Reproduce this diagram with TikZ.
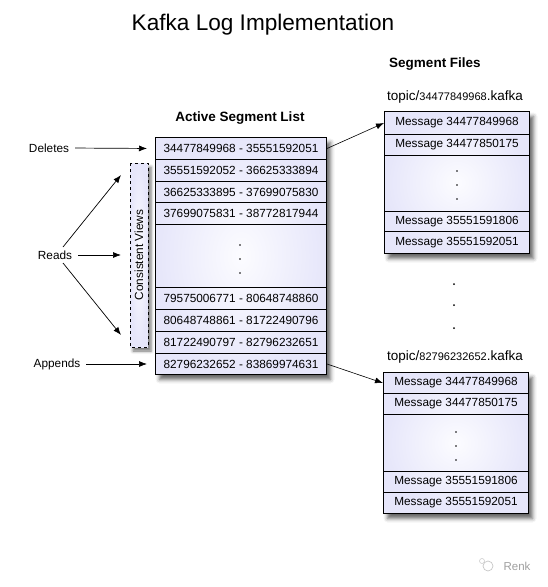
\documentclass[tikz,border=0pt]{standalone}
\usepackage{fontspec}
\setmainfont{Liberation Sans}
\usetikzlibrary{arrows.meta,shadows.blur}
\definecolor{lavout}{RGB}{230,230,250}
\definecolor{lavin}{RGB}{252,252,255}
\begin{document}
\begin{tikzpicture}[x=1pt,y=-1pt,
  every node/.style={font=\fontsize{11.8}{14}\selectfont, inner sep=0pt},
  framebox/.style={draw, line width=1pt, inner color=lavin, outer color=lavout, anchor=north west,
    blur shadow={shadow xshift=4pt, shadow yshift=-5pt, shadow blur radius=4pt, shadow opacity=60}},
  cell/.style={draw, line width=1pt, anchor=north west},
  arr/.style={-{Latex[length=8pt,width=6pt]}, line width=0.7pt},
  dotmark/.style={circle, fill, minimum size=1.6pt, inner sep=0pt},
  hdr/.style={font=\fontsize{13.5}{16}\selectfont\bfseries},
  topiclbl/.style={font=\fontsize{13.5}{16}\selectfont}]
\useasboundingbox (0,0) rectangle (548,587);

% title and headers
\node[font=\fontsize{22.6}{26}\selectfont, anchor=base] (title) at (263,30) {Kafka Log Implementation};
\node[hdr] (hsf) at (435,64) {Segment Files};
\node[hdr] (hasl) at (240,118) {Active Segment List};

% active segment list
\node[framebox, minimum width=171pt, minimum height=237pt] (list) at (155,137) {};
\node[cell, minimum width=171pt, minimum height=22pt] (a1) at (155,137) {34477849968 - 35551592051};
\node[cell, minimum width=171pt, minimum height=22pt] (a2) at (155,159) {35551592052 - 36625333894};
\node[cell, minimum width=171pt, minimum height=21pt] (a3) at (155,181) {36625333895 - 37699075830};
\node[cell, minimum width=171pt, minimum height=22pt] (a4) at (155,202) {37699075831 - 38772817944};
\node[cell, minimum width=171pt, minimum height=63pt] (ad) at (155,224) {};
\node[cell, minimum width=171pt, minimum height=22pt] (a5) at (155,287) {79575006771 - 80648748860};
\node[cell, minimum width=171pt, minimum height=22pt] (a6) at (155,309) {80648748861 - 81722490796};
\node[cell, minimum width=171pt, minimum height=22pt] (a7) at (155,331) {81722490797 - 82796232651};
\node[cell, minimum width=171pt, minimum height=21pt] (a8) at (155,353) {82796232652 - 83869974631};
\node[dotmark] (ad1) at (240,245) {};
\node[dotmark] (ad2) at (240,259) {};
\node[dotmark] (ad3) at (240,273) {};

% segment file 1
\node[topiclbl] (t1) at (455,97) {topic/{\fontsize{11}{13}\selectfont 34477849968}.kafka};
\node[framebox, minimum width=145pt, minimum height=142pt] (f1) at (384,111) {};
\node[cell, minimum width=145pt, minimum height=23pt] (m1) at (384,111) {Message 34477849968};
\node[cell, minimum width=145pt, minimum height=21pt] (m2) at (384,134) {Message 34477850175};
\node[cell, minimum width=145pt, minimum height=56pt] (md) at (384,155) {};
\node[cell, minimum width=145pt, minimum height=20pt] (m3) at (384,211) {Message 35551591806};
\node[cell, minimum width=145pt, minimum height=22pt] (m4) at (384,231) {Message 35551592051};
\node[dotmark] (md1) at (457,171) {};
\node[dotmark] (md2) at (457,185) {};
\node[dotmark] (md3) at (457,199) {};

% dots between files
\node[dotmark, minimum size=2pt] (g1) at (454,284) {};
\node[dotmark, minimum size=2pt] (g2) at (454,305) {};
\node[dotmark, minimum size=2pt] (g3) at (454,328) {};

% segment file 2
\node[topiclbl] (t2) at (455,357) {topic/{\fontsize{11}{13}\selectfont 82796232652}.kafka};
\node[framebox, minimum width=145pt, minimum height=141pt] (f2) at (383,372) {};
\node[cell, minimum width=145pt, minimum height=21pt] (n1) at (383,372) {Message 34477849968};
\node[cell, minimum width=145pt, minimum height=21pt] (n2) at (383,393) {Message 34477850175};
\node[cell, minimum width=145pt, minimum height=57pt] (nd) at (383,414) {};
\node[cell, minimum width=145pt, minimum height=21pt] (n3) at (383,471) {Message 35551591806};
\node[cell, minimum width=145pt, minimum height=21pt] (n4) at (383,492) {Message 35551592051};
\node[dotmark] (nd1) at (456,432) {};
\node[dotmark] (nd2) at (456,446) {};
\node[dotmark] (nd3) at (456,460) {};

% consistent views
\node[draw, dashed, line width=0.9pt, inner color=lavin, outer color=lavout, rotate=90,
  minimum width=184pt, minimum height=18pt,
  blur shadow={shadow xshift=3pt, shadow yshift=-4pt, shadow blur radius=3pt, shadow opacity=55}]
  (cv) at (139,255) {Consistent Views};

% left labels and arrows
\node (del) at (49,148) {Deletes};
\node (rd) at (55,255) {Reads};
\node (ap) at (57,364) {Appends};
\coordinate (rs1) at (63,247);
\coordinate (rs2) at (63,263);
\coordinate (rT) at (121,175);
\coordinate (rM) at (121,255);
\coordinate (rB) at (121,335);
\draw[arr, shorten <=6pt, shorten >=8pt] (del.east) -- (a1.west);
\draw[arr, shorten <=6pt] (rd.east) -- (rM);
\draw[arr] (rs1) -- (rT);
\draw[arr] (rs2) -- (rB);
\draw[arr, shorten <=6pt, shorten >=8pt] (ap.east) -- (a8.west);

% right arrows
\draw[arr, line width=0.6pt] (a1.east) -- (m1.west);
\draw[arr, line width=0.6pt] (a8.east) -- (n1.west);

% watermark
\node[circle, draw=gray!45, line width=0.7pt, minimum size=10pt] (wmi) at (488,566) {};
\node[circle, draw=gray!40, line width=0.6pt, minimum size=5pt] (wmi2) at (482,561) {};
\node[text=gray!75, font=\fontsize{11.5}{13}\selectfont] (wm) at (517,566) {Renk};
\end{tikzpicture}
\end{document}
